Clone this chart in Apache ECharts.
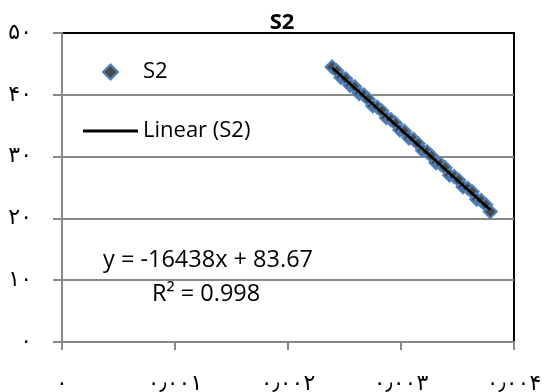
<!DOCTYPE html>
<html>
<head>
<meta charset="utf-8">
<script src="https://cdn.jsdelivr.net/npm/echarts@6/dist/echarts.min.js"></script>
<style>
html, body { margin: 0; padding: 0; background: #fff; }
#chart { width: 544px; height: 392px; }
</style>
</head>
<body>
<div id="chart"></div>
<script>
// S2 points
const s2X = [0.00239, 0.00243, 0.00247, 0.00251, 0.00255, 0.00259, 0.00263, 0.00267, 0.00271, 0.00275,
             0.00279, 0.00283, 0.00287, 0.00291, 0.00295, 0.00299, 0.00303, 0.00307, 0.00311, 0.00315,
             0.00319, 0.00323, 0.00327, 0.00331, 0.00335, 0.00339, 0.00343, 0.00347, 0.00351, 0.00355,
             0.00359, 0.00363, 0.00367, 0.00371, 0.00375, 0.00379]
const s2Y = [44.5, 43.9, 42.8, 42.6, 41.5, 41.3, 40.2, 40.0, 39.3, 38.2,
             38.0, 37.4, 36.3, 36.0, 35.4, 34.3, 34.1, 33.0, 32.8, 32.1,
             31.0, 30.8, 30.1, 29.0, 28.8, 28.2, 27.0, 26.8, 26.2, 25.1,
             24.9, 24.3, 23.1, 22.9, 22.2, 21.1]
// trend line ends
const trendX = [0.00239, 0.00379]
const trendY = [44.4, 21.4]

const xTickValues = [0, 0.001, 0.002, 0.003, 0.004]
const xTickLabels = ['۰', '۰٫۰۰۱', '۰٫۰۰۲', '۰٫۰۰۳', '۰٫۰۰۴']
const yTickValues = [0, 10, 20, 30, 40, 50]
const yTickLabels = ['۰', '۱۰', '۲۰', '۳۰', '۴۰', '۵۰']

const equationText = 'y = -16438x + 83.67'
const r2Text = 'R² = 0.998'

function tickLabel(values, labels, v) {
    for (let i = 0; i < values.length; i++) {
        if (Math.abs(values[i] - v) < 1e-9) return labels[i]
    }
    return ''
}

const textFont = 'Open Sans'
const digitFont = 'DejaVu Sans'
const gray = '#888888'

let myChart = echarts.init(document.getElementById('chart'))
let option = {
    backgroundColor: '#FFFFFF',
    animation: false,
    title: {
        text: 'S2',
        left: 277,
        top: 7,
        textAlign: 'center',
        textStyle: { fontFamily: textFont, fontSize: 22, fontWeight: 'bold', color: '#000' }
    },
    legend: [{
        data: ['S2'],
        left: 102,
        top: 61,
        padding: 0,
        itemWidth: 15,
        itemHeight: 15,
        textStyle: { fontFamily: textFont, fontSize: 22, color: '#000', padding: [0, 0, 0, 20] }
    }, {
        data: [{ name: 'Linear (S2)', icon: 'rect' }],
        left: 83,
        top: 120,
        padding: 0,
        itemWidth: 55,
        itemHeight: 3,
        itemStyle: { color: '#000' },
        textStyle: { fontFamily: textFont, fontSize: 22, color: '#000' }
    }],
    grid: {
        left: 62,
        right: 30,
        top: 33,
        bottom: 50,
        containLabel: false,
        outerBoundsMode: 'none',
        show: true,
        borderColor: '#000',
        borderWidth: 2
    },
    xAxis: {
        type: 'value',
        min: 0,
        max: 0.004,
        interval: 0.001,
        axisLine: { lineStyle: { color: gray, width: 2 } },
        axisTick: { show: true, length: 8, lineStyle: { color: gray, width: 2 } },
        axisLabel: {
            margin: 31,
            fontFamily: digitFont,
            fontSize: 22,
            color: '#000',
            formatter: v => tickLabel(xTickValues, xTickLabels, v)
        },
        splitLine: { show: false }
    },
    yAxis: {
        type: 'value',
        min: 0,
        max: 50,
        interval: 10,
        axisLine: { show: true, lineStyle: { color: gray, width: 2 } },
        axisTick: { show: true, length: 9, lineStyle: { color: gray, width: 2 } },
        axisLabel: {
            margin: 30,
            fontFamily: digitFont,
            fontSize: 22,
            color: '#000',
            formatter: v => tickLabel(yTickValues, yTickLabels, v)
        },
        splitLine: {
            show: true,
            showMinLine: false,
            showMaxLine: false,
            lineStyle: { color: gray, width: 2 }
        }
    },
    graphic: [{
        type: 'text',
        left: 103,
        top: 248,
        style: { text: equationText, font: '23.5px "Open Sans"', fill: '#000' }
    }, {
        type: 'text',
        left: 152,
        top: 282,
        style: { text: r2Text, font: '23.5px "Open Sans"', fill: '#000' }
    }],
    series: [{
        name: 'S2',
        type: 'scatter',
        data: s2X.map((x, i) => [x, s2Y[i]]),
        symbol: 'diamond',
        symbolSize: 13,
        itemStyle: { color: '#4a4a4a', borderColor: '#4F81BD', borderWidth: 2, opacity: 1 },
        z: 2
    }, {
        name: 'Linear (S2)',
        type: 'line',
        data: trendX.map((x, i) => [x, trendY[i]]),
        symbol: 'none',
        lineStyle: { color: '#000', width: 2.5 },
        itemStyle: { color: '#000' },
        z: 3
    }]
}
myChart.setOption(option)
</script>
</body>
</html>
